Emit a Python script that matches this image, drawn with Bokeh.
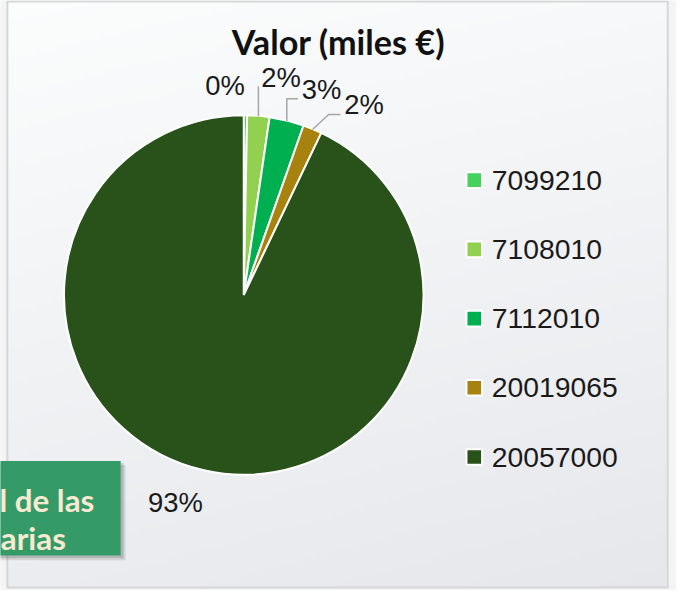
import numpy as np
from bokeh.plotting import figure
from bokeh.models import Range1d, ColumnDataSource
from bokeh.core.properties import value
from bokeh.embed import file_html
from bokeh.resources import INLINE

# ---------------- data ----------------
categories = ["7099210", "7108010", "7112010", "20019065", "20057000"]
shares = [0.3, 2.0, 3.1, 1.7, 92.9]          # % of total value (miles €)
pct_labels = ["0%", "2%", "3%", "2%", "93%"]
colors = ["#44d25c", "#92d050", "#00b050", "#a8820e", "#285219"]
title_text = "Valor (miles €)"
box_lines = ["l de las", "arias"]

# ---------------- layout ----------------
REF_W, REF_H = 692, 606          # design space (reference pixels)
W, H = 676, 590                  # canvas that fits the window
SF = W / REF_W                   # font / marker scale


def Y(yy):                       # reference y (from top) -> data y
    return REF_H - yy


def fs(px):
    return value(f"{px * SF:.1f}px")


p = figure(width=W, height=H,
           x_range=Range1d(0, REF_W), y_range=Range1d(0, REF_H),
           output_backend="svg", toolbar_location=None, min_border=0,
           x_axis_type=None, y_axis_type=None)
p.grid.visible = False
p.outline_line_color = None
p.background_fill_color = "#f4f4f5"
p.border_fill_color = "#f4f4f5"

# chart area background gradient + frame
FL, FR, FT, FB = 7, 683, 1, 603
ny, nx = 120, 120
u = np.linspace(0, 1, nx)[None, :]
v = np.linspace(0, 1, ny)[:, None]
TL = np.array([251, 252, 252]); TR = np.array([247, 248, 249])
BL = np.array([235, 236, 239]); BR = np.array([230, 231, 235])
img = np.empty((ny, nx), dtype=np.uint32)
view = img.view(dtype=np.uint8).reshape((ny, nx, 4))
for k in range(3):
    c = BL[k]*(1-u)*(1-v) + BR[k]*u*(1-v) + TL[k]*(1-u)*v + TR[k]*u*v
    view[:, :, k] = np.round(c).astype(np.uint8)
view[:, :, 3] = 255
p.image_rgba(image=[img], x=FL, y=Y(FB), dw=FR - FL, dh=FB - FT)
p.quad(left=[FL], right=[FR], top=[Y(FT)], bottom=[Y(FB)],
       fill_color=None, line_color="#d6d6d6", line_width=2)

# ---------------- pie ----------------
cx, cy, r = 249, Y(302.5), 184
fr = np.array(shares) / sum(shares)
cum = np.concatenate([[0], np.cumsum(fr)])
start = np.pi / 2 - 2 * np.pi * cum[:-1]
end = np.pi / 2 - 2 * np.pi * cum[1:]
src = ColumnDataSource(dict(start=start, end=end, color=colors, cat=categories))
p.wedge(x=cx, y=cy, radius=r, start_angle="start", end_angle="end",
        direction="clock", fill_color="color", line_color="white",
        line_width=2, source=src)

# data labels (placed around the mid angle, Excel "best fit" style)
mid = 360 * (cum[:-1] + cum[1:]) / 2            # clockwise from top, deg
nudge = np.array([-5.6, 5.0, 6.8, 9.7, 5.4])
lab_r = np.array([216, 227, 226, 231, 224])
la = np.radians(mid + nudge)
lx = cx + lab_r * np.sin(la)
ly = cy + lab_r * np.cos(la)
p.text(x=lx, y=ly, text=pct_labels, text_align="center", text_baseline="middle",
       text_font=value("Liberation Sans"), text_font_size=fs(28),
       text_color="#1a1a1a")

# leader lines
has_leader = [False, True, True, True, False]
xs, ys = [], []
ma = np.radians(mid)
for i, lead in enumerate(has_leader):
    if not lead:
        continue
    ax_, ay_ = cx + r * np.sin(ma[i]), cy + r * np.cos(ma[i])
    hw = 0.5 * len(pct_labels[i]) * 0.72 * 28
    ex, ey = lx[i] - hw - 4, ly[i] - 10
    bx = max(ax_, ex - 12)
    xs.append([ax_, bx, ex]); ys.append([ay_, ey, ey])
p.multi_line(xs=xs, ys=ys, line_color="#a6a6a6", line_width=1.5)

# ---------------- title ----------------
p.text(x=[346], y=[Y(42)], text=[title_text], text_align="center",
       text_baseline="alphabetic", text_font=value("Lato"),
       text_font_style="bold", text_font_size=fs(35), text_color="#111111")

# ---------------- legend ----------------
n = len(categories)
leg_y = Y(184.5 + 71.1 * np.arange(n))
p.scatter(x=np.full(n, 485.0), y=leg_y, marker="square", size=16 * SF,
          fill_color=colors, line_color="white", line_width=2)
p.text(x=np.full(n, 503.0), y=leg_y, text=categories,
       text_align="left", text_baseline="middle",
       text_font=value("Liberation Sans"), text_font_size=fs(29),
       text_color="#1a1a1a")

# ---------------- overlapping green text box ----------------
BXL, BXR, BYT, BYB = -20, 123, 473, 570
p.quad(left=[BXL + 3], right=[BXR + 5], top=[Y(BYT + 4)], bottom=[Y(BYB + 5)],
       fill_color="black", fill_alpha=0.10, line_color=None)
p.quad(left=[BXL + 2], right=[BXR + 3], top=[Y(BYT + 2)], bottom=[Y(BYB + 3)],
       fill_color="black", fill_alpha=0.15, line_color=None)
p.quad(left=[BXL], right=[BXR], top=[Y(BYT)], bottom=[Y(BYB)],
       fill_color="#349a68", line_color=None)
p.text(x=[96, 67], y=[Y(513), Y(552)], text=box_lines,
       text_align="right", text_baseline="alphabetic", text_font=value("Lato"),
       text_font_style="bold", text_font_size=fs(32), text_color="#f8ead0")

open("out.html", "w").write(file_html(p, INLINE))
